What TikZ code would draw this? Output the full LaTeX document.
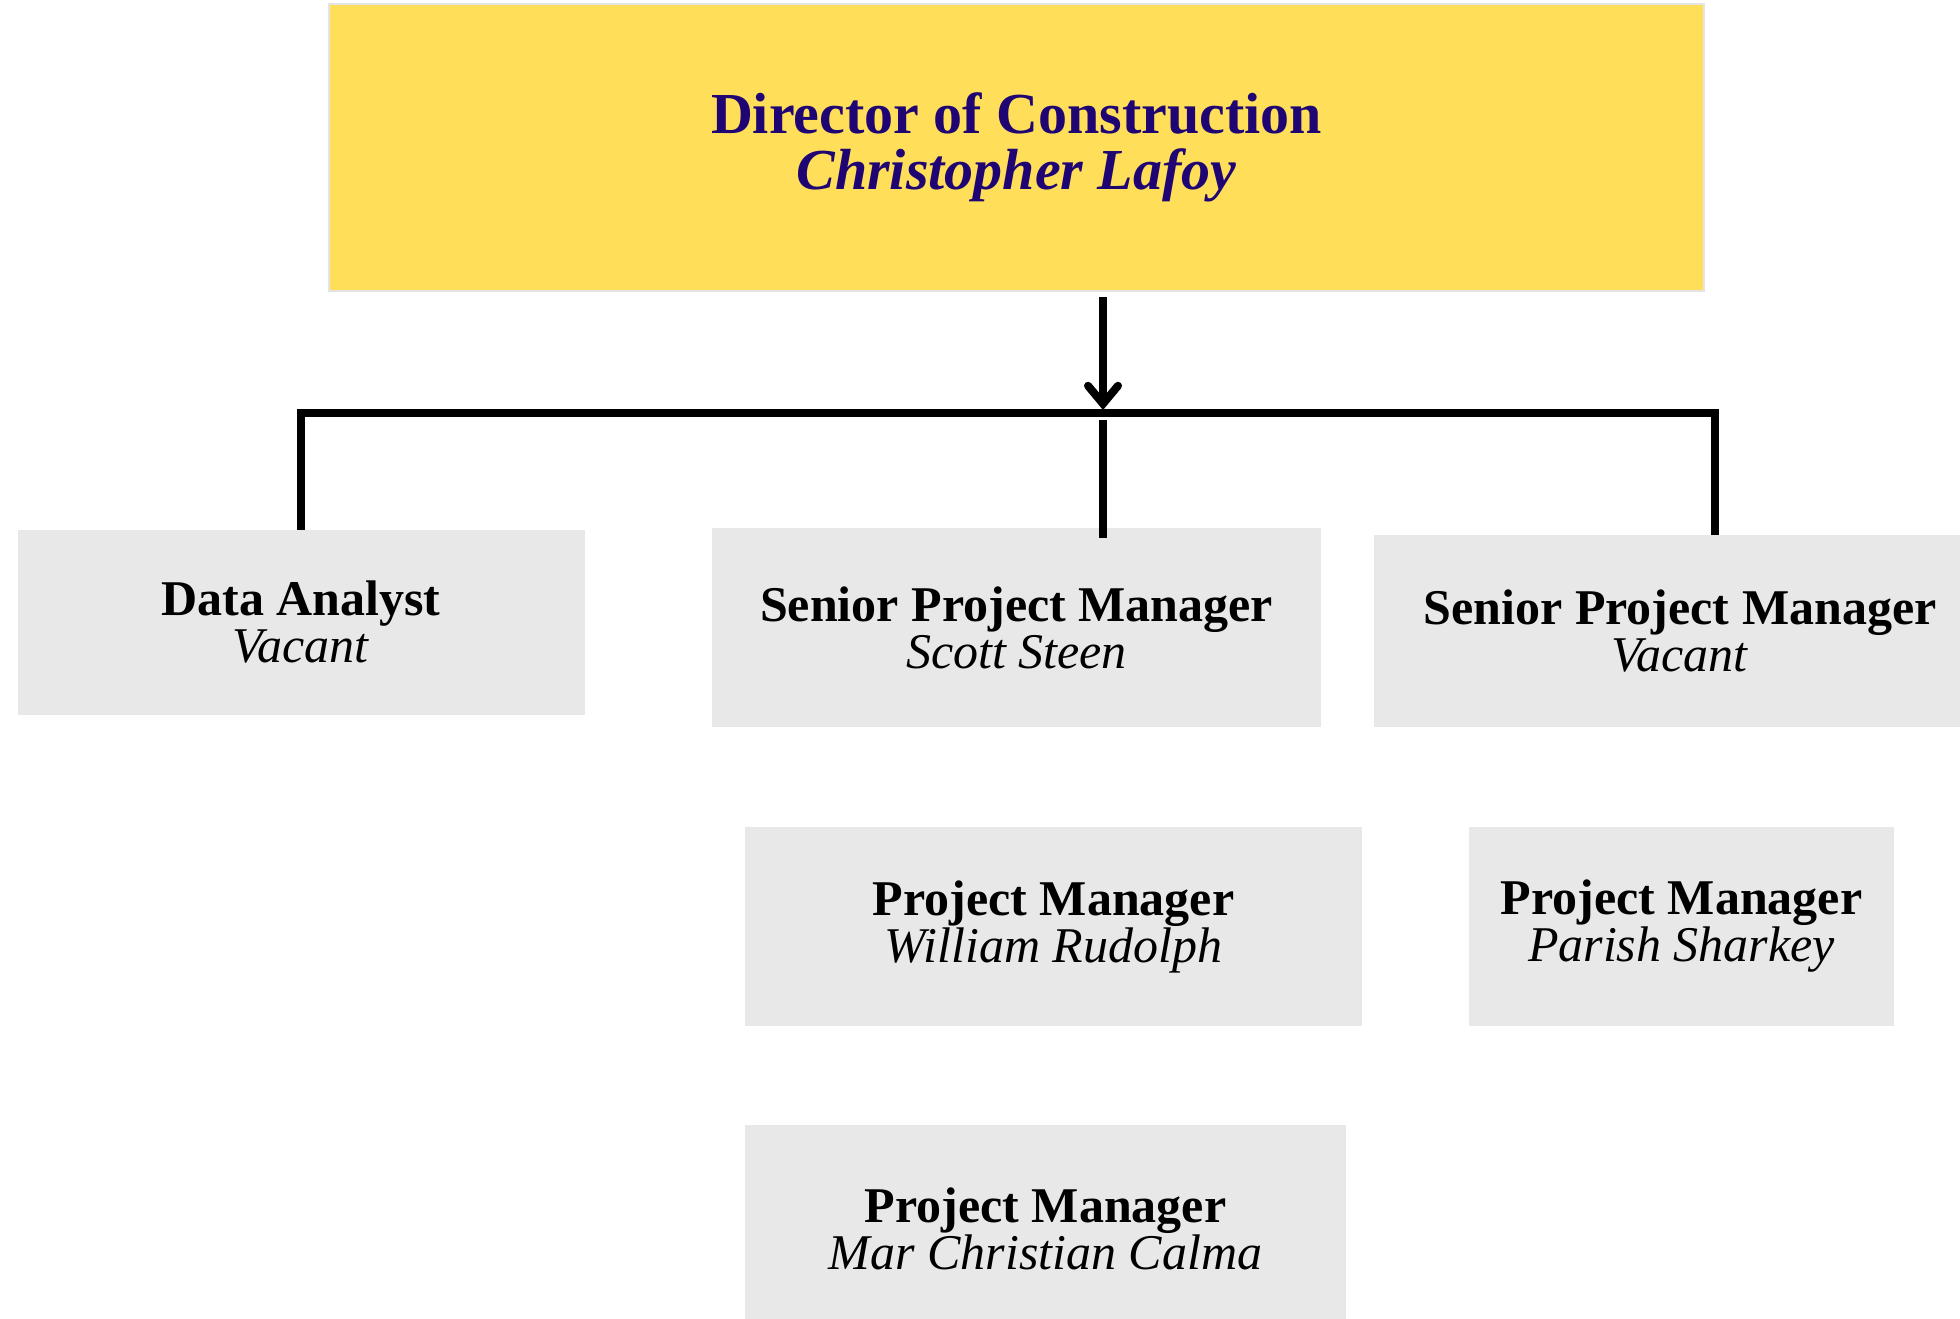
\documentclass[tikz,border=0pt]{standalone}
\usepackage{fontspec}
\setmainfont{Liberation Serif}
\usetikzlibrary{arrows.meta}
\definecolor{topyellow}{HTML}{FFDE59}
\definecolor{boxgray}{HTML}{E8E8E8}
\definecolor{topedge}{HTML}{E4E4E4}
\definecolor{indigo}{RGB}{30,5,115}
\tikzset{
  topbox/.style={rectangle, fill=topyellow, draw=topedge, line width=1pt, inner sep=0pt, align=center, text=indigo, font=\fontsize{29}{28}\selectfont},
  graybox/.style={rectangle, fill=boxgray, inner sep=0pt, align=center, text=black, font=\fontsize{25}{23.5}\selectfont},
  conn/.style={line width=4pt, black},
  arr/.style={conn, -{Straight Barb[length=9pt, width=15pt, line cap=round]}}
}
\begin{document}
\begin{tikzpicture}[x=0.5pt, y=-0.5pt]
\useasboundingbox (0,0) rectangle (1960,1318);
% boxes
\node[topbox, minimum width=687.5pt, minimum height=143.5pt] (top) at (1016.5,147.5)
  {\textbf{Director of Construction}\\\textbf{\textit{Christopher Lafoy}}};
\node[graybox, minimum width=283.5pt, minimum height=92.5pt] (da) at (301,622.5)
  {\textbf{Data Analyst}\\\textit{Vacant}};
\node[graybox, minimum width=304.5pt, minimum height=99.5pt] (ss) at (1016.5,627.5)
  {\textbf{Senior Project Manager}\\\textit{Scott Steen}};
\node[graybox, minimum width=306pt, minimum height=96pt] (sv) at (1680,631)
  {\textbf{Senior Project Manager}\\\textit{Vacant}};
\node[graybox, minimum width=308.5pt, minimum height=99.5pt] (pw) at (1053.5,926.5)
  {\textbf{Project Manager}\\\textit{William Rudolph}};
\node[graybox, minimum width=212.5pt, minimum height=99.5pt] (pp) at (1681.5,926.5)
  {\textbf{Project Manager}\\\textit{Parish Sharkey}};
\node[graybox, minimum width=300.5pt, minimum height=104pt] (pm) at (1045.5,1229)
  {\textbf{Project Manager}\\\textit{Mar Christian Calma}};
% connectors
\coordinate (bar) at (1103,410);
\coordinate (barR) at (1715,413);
\coordinate (midtop) at (1103,420);
\draw[arr] ([yshift=-2.5pt]top.south -| bar) -- (bar);
\draw[conn] (da.north) |- (barR) -- (sv.north -| barR);
\draw[conn] (midtop) -- ([yshift=-5pt]ss.north -| midtop);
\end{tikzpicture}
\end{document}
